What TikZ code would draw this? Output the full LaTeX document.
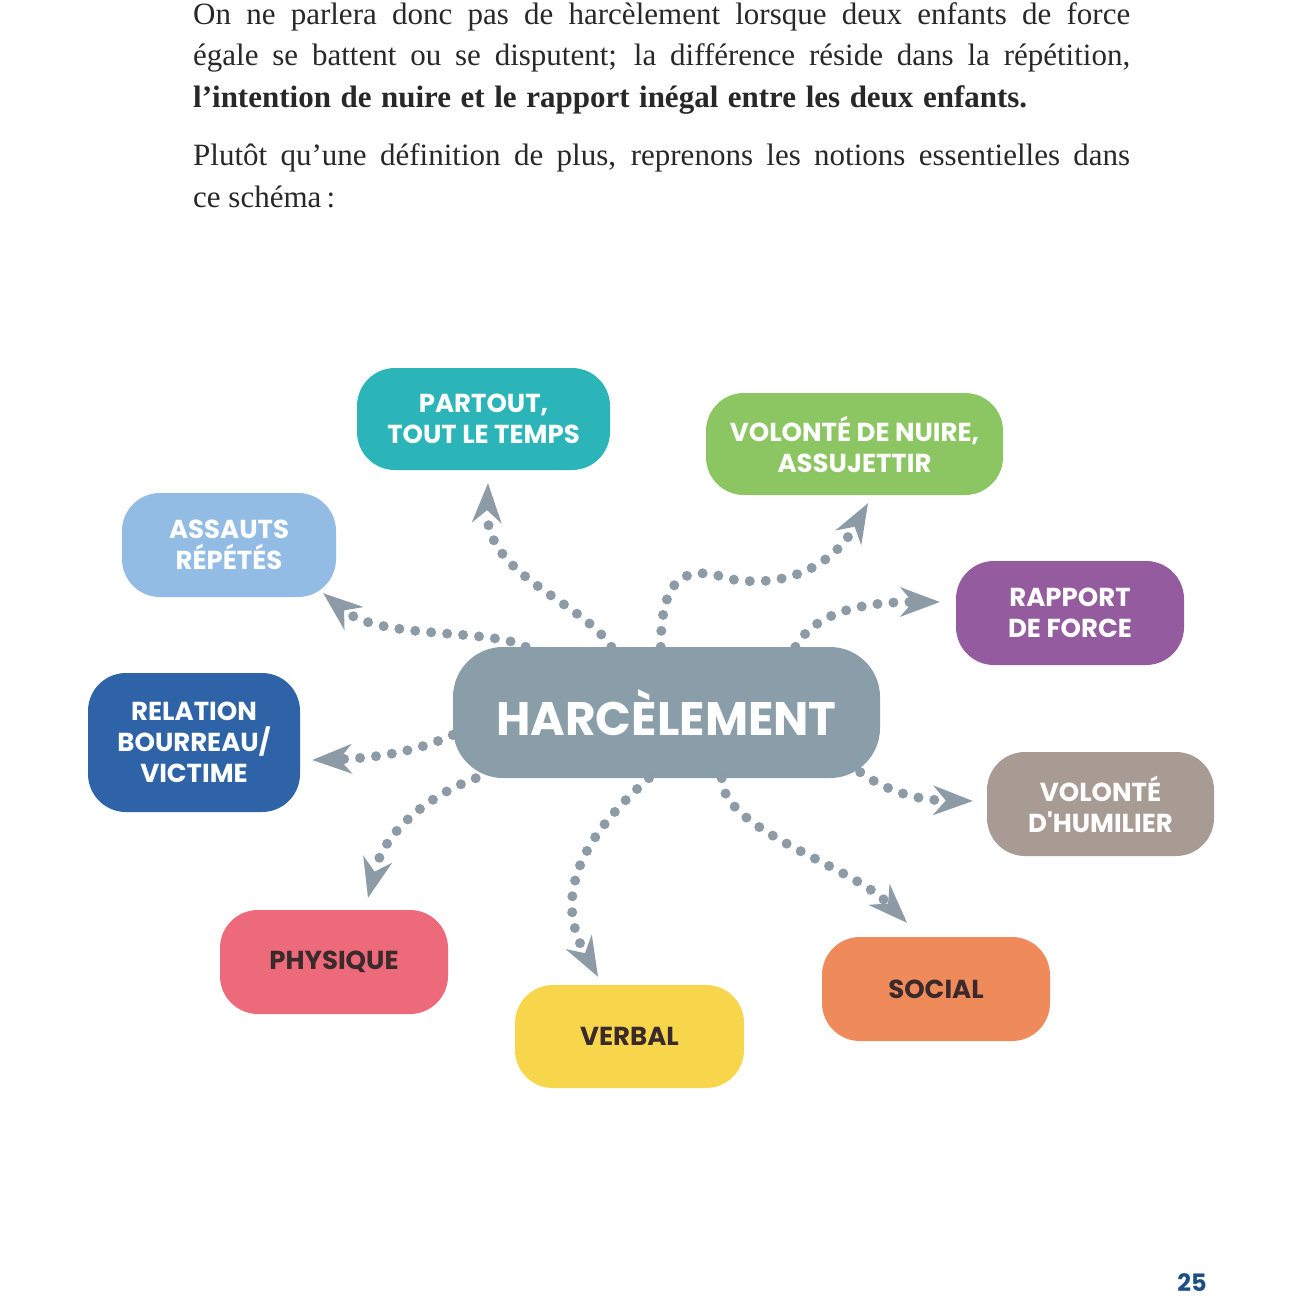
\documentclass[tikz,border=0pt]{standalone}
\usepackage{fontspec}
\setmainfont{Liberation Serif}
\newfontfamily\blobfont{Poppins}
\usetikzlibrary{arrows.meta}
\definecolor{cPartout}{RGB}{43,181,184}
\definecolor{cNuire}{RGB}{139,198,99}
\definecolor{cAssauts}{RGB}{147,188,228}
\definecolor{cRapport}{RGB}{148,92,158}
\definecolor{cHarc}{RGB}{138,158,170}
\definecolor{cRelation}{RGB}{47,99,168}
\definecolor{cHumilier}{RGB}{168,155,148}
\definecolor{cPhysique}{RGB}{236,106,121}
\definecolor{cVerbal}{RGB}{248,214,75}
\definecolor{cSocial}{RGB}{239,138,91}
\definecolor{blobtext}{RGB}{59,42,44}
\definecolor{dotgray}{RGB}{140,155,165}
\definecolor{bodytext}{RGB}{40,40,40}
\definecolor{pagenum}{RGB}{31,78,135}
\begin{document}
\begin{tikzpicture}[x=1pt,y=-1pt,
	blob/.style={rounded corners=38pt,align=center,inner sep=0pt,text=white,
		font=\blobfont\bfseries\fontsize{26}{31}\selectfont},
	darkblob/.style={blob,text=blobtext},
	para/.style={anchor=base west,inner sep=0pt,text=bodytext,font=\fontsize{31}{41}\selectfont},
	dots/.style={draw=dotgray,line width=10pt,line cap=round,dash pattern=on 0pt off 16pt,
		-{Stealth[length=40pt,width=30pt,inset=13pt,line width=0pt,color=dotgray]}}]
	\useasboundingbox[fill=white] (0,0) rectangle (1298,1298);
	\node[para] (l1) at (193,25) {\makebox[937pt][s]{On ne parlera donc pas de harcèlement lorsque deux enfants de force}};
	\node[para] (l2) at (193,66) {\makebox[937pt][s]{égale se battent ou se disputent; la différence réside dans la répétition,}};
	\node[para] (l3) at (193,107) {\makebox[834pt][s]{\bfseries l'intention de nuire et le rapport inégal entre les deux enfants.}};
	\node[para] (l4) at (193,165) {\makebox[937pt][s]{Plutôt qu'une définition de plus, reprenons les notions essentielles dans}};
	\node[para] (l5) at (193,207) {ce schéma\,:};
	\node[blob,fill=cHarc,minimum width=427pt,minimum height=131pt,rounded corners=50pt,font=\blobfont\bfseries\fontsize{47}{47}\selectfont] (harc) at (666.5,712.5) {HARCÈLEMENT};
	\node[blob,fill=cPartout,minimum width=253pt,minimum height=102pt] (partout) at (483.5,419) {PARTOUT,\\TOUT LE TEMPS};
	\node[blob,fill=cNuire,minimum width=297pt,minimum height=102pt] (nuire) at (854.5,444) {VOLONTÉ DE NUIRE,\\ASSUJETTIR};
	\node[blob,fill=cAssauts,minimum width=214pt,minimum height=104pt] (assauts) at (229,545) {ASSAUTS\\RÉPÉTÉS};
	\node[blob,fill=cRapport,minimum width=228pt,minimum height=104pt] (rapport) at (1070,613) {RAPPORT\\DE FORCE};
	\node[blob,fill=cRelation,minimum width=212pt,minimum height=139pt] (relation) at (194,742.5) {RELATION\\BOURREAU/\\VICTIME};
	\node[blob,fill=cHumilier,minimum width=227pt,minimum height=104pt] (humilier) at (1100.5,804) {VOLONTÉ\\D'HUMILIER};
	\node[darkblob,fill=cPhysique,minimum width=228pt,minimum height=104pt] (physique) at (334,962) {PHYSIQUE};
	\node[darkblob,fill=cVerbal,minimum width=229pt,minimum height=103pt] (verbal) at (629.5,1036.5) {VERBAL};
	\node[darkblob,fill=cSocial,minimum width=228pt,minimum height=104pt] (social) at (936,989) {SOCIAL};
	\draw[dots] (harc.130) .. controls (580,600) and (485,575) .. ([xshift=4.5pt,yshift=-13pt]partout.south);
	\draw[dots] (harc.95) .. controls (661,570) and (690,566) .. (730,579) .. controls (780,588) and (830,570) .. ([xshift=13.5pt,yshift=-8pt]nuire.south);
	\draw[dots] (harc.27) .. controls (812,618) and (850,602) .. ([xshift=-16pt,yshift=11pt]rapport.west);
	\draw[dots] (harc.155) .. controls (490,628) and (380,640) .. ([xshift=-13pt,yshift=4pt]assauts.south east);
	\draw[dots] (harc.186) .. controls (420,750) and (380,758) .. ([xshift=12pt,yshift=-17.5pt]relation.east);
	\draw[dots] (harc.199) .. controls (430,795) and (385,830) .. ([xshift=34pt,yshift=12pt]physique.north);
	\draw[dots] (harc.255) .. controls (590,830) and (550,890) .. ([xshift=-31.5pt,yshift=8pt]verbal.north);
	\draw[dots] (harc.310) .. controls (722,830) and (850,865) .. ([xshift=-29pt,yshift=14pt]social.north);
	\draw[dots] ([xshift=-20pt,yshift=6pt]harc.south east) .. controls (885,790) and (915,800) .. ([xshift=-14pt,yshift=3pt]humilier.west);
	\node[font=\blobfont\bfseries\fontsize{24}{24}\selectfont,text=pagenum] (page) at (1192,1283) {25};
\end{tikzpicture}
\end{document}
